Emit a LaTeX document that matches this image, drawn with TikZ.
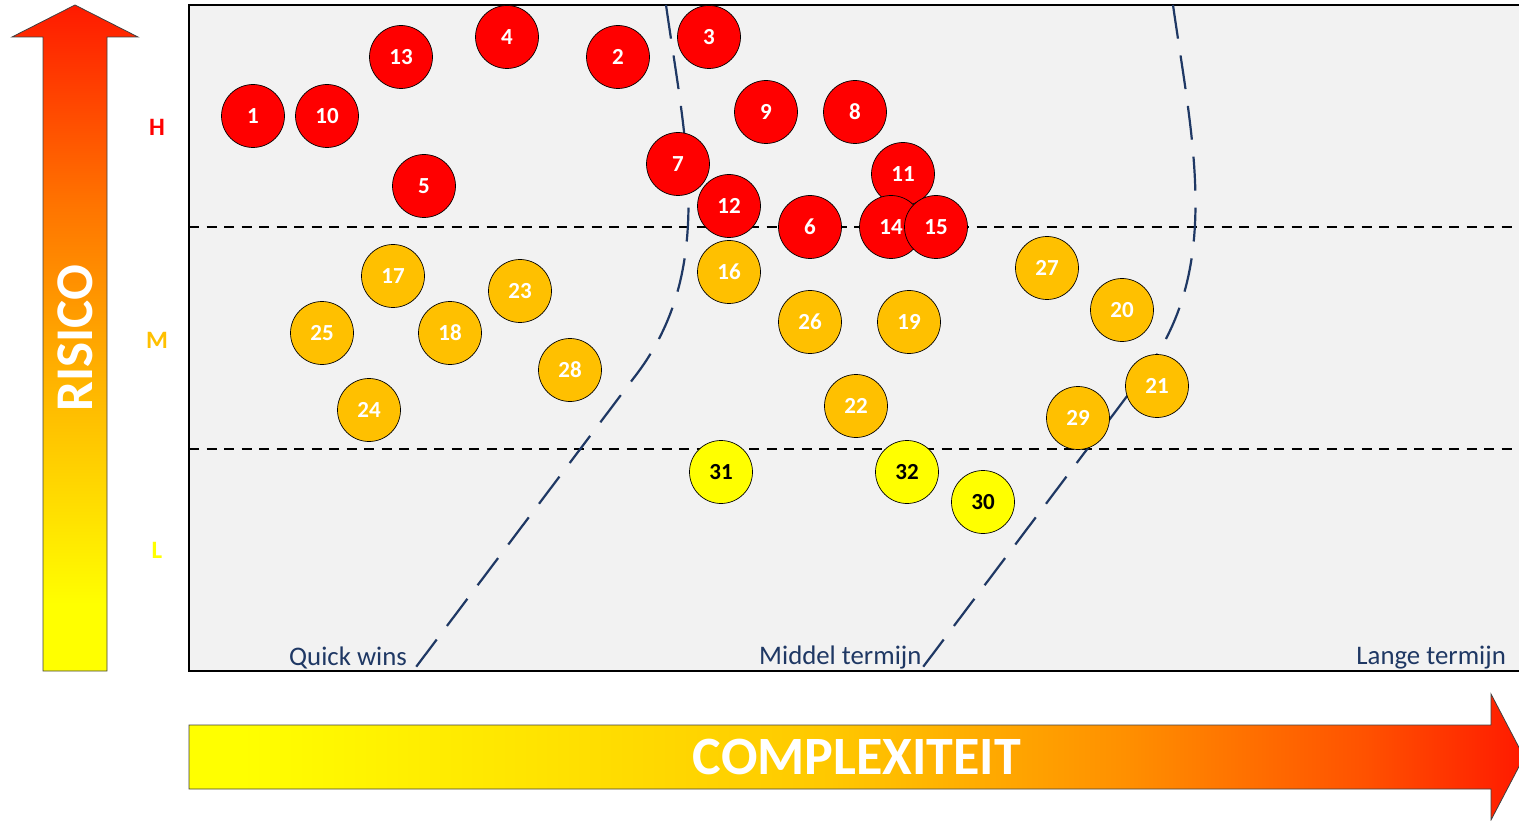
\documentclass[tikz,border=0pt]{standalone}
\usepackage{fontspec}
\setmainfont{Carlito}

\definecolor{navy}{HTML}{1F3864}
\definecolor{boxgray}{HTML}{F2F2F2}
\definecolor{hired}{HTML}{FF0000}
\definecolor{amber}{HTML}{FFC000}
\definecolor{lowyel}{HTML}{FFFF00}
% gradient colours of the two axis arrows
\definecolor{gyel}{HTML}{FFFF00}
\definecolor{ggold}{HTML}{FFD200}
\definecolor{gorange}{HTML}{FFA500}
\definecolor{gdorange}{HTML}{FF7400}
\definecolor{gred}{HTML}{FF1A00}
\definecolor{cgold}{HTML}{FFC800}
\definecolor{corange}{HTML}{FF9000}
\definecolor{cdorange}{HTML}{FF5200}

% risk axis: yellow at the bottom, red at the top
\pgfdeclareverticalshading{riskgrad}{100bp}{%
  color(0bp)=(gyel); color(30bp)=(gyel); color(40bp)=(ggold);
  color(50bp)=(gorange); color(60bp)=(gdorange); color(75bp)=(gred);
  color(100bp)=(gred)}
% complexity axis: yellow on the left, red on the right
\pgfdeclarehorizontalshading{cplxgrad}{100bp}{%
  color(0bp)=(gyel); color(27bp)=(gyel); color(49bp)=(cgold);
  color(60bp)=(corange); color(69bp)=(cdorange); color(75bp)=(gred);
  color(100bp)=(gred)}

\tikzset{
  bub/.style={circle, draw=black, line width=0.7pt, minimum size=63pt,
    inner sep=0pt, font=\bfseries\fontsize{23}{23}\selectfont, text=white},
  hi/.style={bub, fill=hired},
  mid/.style={bub, fill=amber},
  lo/.style={bub, fill=lowyel, text=black},
  lvl/.style={inner sep=0pt, font=\bfseries\fontsize{25}{25}\selectfont},
  zone/.style={inner sep=0pt, text=navy, font=\fontsize{26.8}{26.8}\selectfont},
  axislabel/.style={inner sep=0pt, text=white, font=\bfseries\fontsize{54}{54}\selectfont},
  band/.style={black, line width=1.2pt, dash pattern=on 10pt off 7.5pt},
  horizon/.style={navy, line width=2.2pt, dash pattern=on 34pt off 17pt},
  axisarrow/.style={draw=black!75, line width=0.8pt}
}

\begin{document}
\begin{tikzpicture}[x=1pt, y=-1pt]
\useasboundingbox (0,0) rectangle (1519,821);

% plotting area
\draw[line width=1.3pt, fill=boxgray] (189,5) rectangle (1522,671);

% risk band separators
\coordinate (hmL) at (189,227);  \coordinate (hmR) at (1519,227);
\coordinate (mlL) at (189,449);  \coordinate (mlR) at (1519,449);
\draw[band] (hmL) -- (hmR);
\draw[band] (mlL) -- (mlR);

% time horizon boundaries
\coordinate (q0) at (666,5);   \coordinate (q1) at (636,375);  \coordinate (q2) at (413,671);
\coordinate (m0) at (1173,5);  \coordinate (m1) at (1143,375); \coordinate (m2) at (920,671);
\draw[horizon] (q0) .. controls (686,145) and (716,270) .. (q1) -- (q2);
\draw[horizon] (m0) .. controls (1193,145) and (1223,270) .. (m1) -- (m2);

% risk axis arrow
\shadedraw[shading=riskgrad, axisarrow]
  (43,671) -- (43,37) -- (12,37) -- (75,5) -- (138,37) -- (107,37) -- (107,671) -- cycle;
\node[axislabel, rotate=90, font=\bfseries\fontsize{53}{53}\selectfont] (risico) at (75,338) {RISICO};

% complexity axis arrow
\shadedraw[shading=cplxgrad, axisarrow]
  (189,725) -- (1491,725) -- (1491,694) -- (1524,757) -- (1491,820) -- (1491,789) -- (189,789) -- cycle;
\node[axislabel] (complex) at (857,757) {COMPLEXITEIT};

% risk levels
\node[lvl, text=hired] (lvH) at (157,127) {H};
\node[lvl, text=amber] (lvM) at (157,340) {M};
\node[lvl, text=lowyel] (lvL) at (157,550) {L};

% horizon labels
\node[zone, anchor=base west] (qw) at (289,665) {Quick wins};
\node[zone, anchor=base west] (mt) at (759,664) {Middel termijn};
\node[zone, anchor=base east] (lt) at (1506,664) {Lange termijn};

% items
\node[hi] (c1) at (253,116) {1};
\node[hi] (c2) at (618,57) {2};
\node[hi] (c3) at (709,37) {3};
\node[hi] (c4) at (507,37) {4};
\node[hi] (c5) at (424,186) {5};
\node[hi] (c6) at (810,227) {6};
\node[hi] (c7) at (678,164) {7};
\node[hi] (c8) at (855,112) {8};
\node[hi] (c9) at (766,112) {9};
\node[hi] (c10) at (327,116) {10};
\node[hi] (c11) at (903,174) {11};
\node[hi] (c12) at (729,206) {12};
\node[hi] (c13) at (401,57) {13};
\node[hi] (c14) at (891,227) {14};
\node[hi] (c15) at (936,227) {15};
\node[mid] (c16) at (729,272) {16};
\node[mid] (c17) at (393,276) {17};
\node[mid] (c18) at (450,333) {18};
\node[mid] (c19) at (909,322) {19};
\node[mid] (c20) at (1122,310) {20};
\node[mid] (c21) at (1157,386) {21};
\node[mid] (c22) at (856,406) {22};
\node[mid] (c23) at (520,291) {23};
\node[mid] (c24) at (369,410) {24};
\node[mid] (c25) at (322,333) {25};
\node[mid] (c26) at (810,322) {26};
\node[mid] (c27) at (1047,268) {27};
\node[mid] (c28) at (570,370) {28};
\node[mid] (c29) at (1078,418) {29};
\node[lo] (c30) at (983,502) {30};
\node[lo] (c31) at (721,472) {31};
\node[lo] (c32) at (907,472) {32};
\end{tikzpicture}
\end{document}
